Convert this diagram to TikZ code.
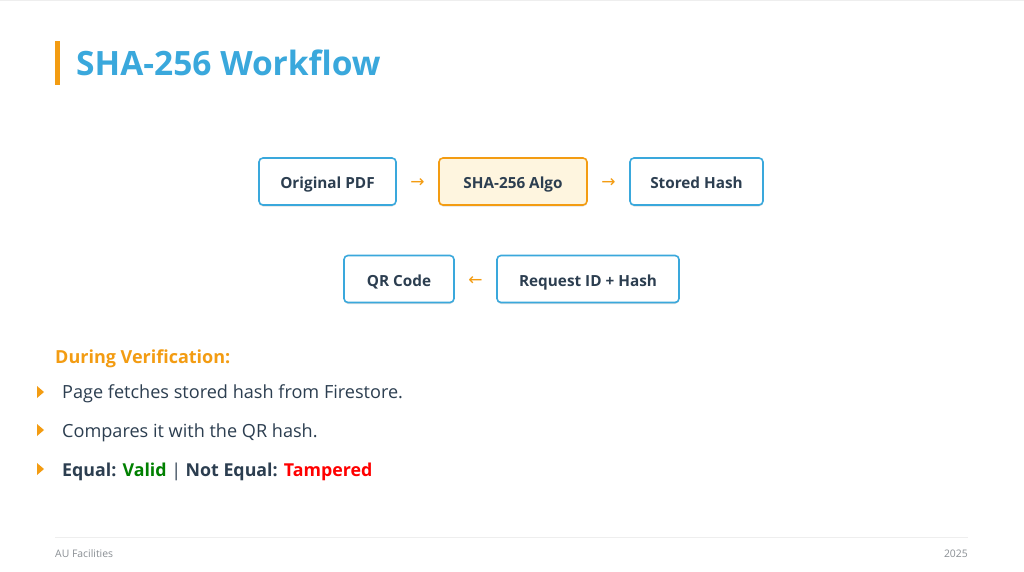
\documentclass[tikz,border=0pt]{standalone}
\usepackage{fontspec}
\setmainfont{Open Sans}
\newfontfamily\arrowfont{DejaVu Sans}
\usetikzlibrary{shadows,calc}
\definecolor{titleblue}{HTML}{3AA8DC}
\definecolor{accent}{HTML}{F39C12}
\definecolor{darktext}{HTML}{2C3E50}
\definecolor{boxfill}{HTML}{FEF5DF}
\definecolor{okgreen}{HTML}{008000}
\definecolor{badred}{HTML}{FF0000}
\definecolor{footgray}{HTML}{8A8F94}
\definecolor{lineg}{HTML}{EEEEEE}
\tikzset{
  flowbox/.style={draw=titleblue, line width=1.6pt, rounded corners=4pt, fill=white,
    minimum height=47pt, inner sep=0pt, text=darktext, text height=16pt, text depth=2pt,
    font=\fontsize{15.3}{17}\selectfont\bfseries,
    drop shadow={shadow xshift=0pt, shadow yshift=-1.5pt, opacity=0.12, fill=black}},
  algobox/.style={flowbox, draw=accent, fill=boxfill},
  flowarrow/.style={text=accent, font=\arrowfont\fontsize{17}{19}\selectfont, inner sep=0pt},
  bullet/.style={fill=accent, draw=none},
  bullettext/.style={anchor=base west, text=darktext, inner sep=0pt, font=\fontsize{18.1}{21}\selectfont},
}
\begin{document}
\begin{tikzpicture}[x=1pt,y=-1pt]
\useasboundingbox (0,0) rectangle (1024,572);
\fill[white] (0,0) rectangle (1024,572);
\draw[lineg, line width=1pt] (0,0.5) -- (1024,0.5);
% title
\fill[accent] (55,41) rectangle (60,85);
\node[anchor=base west, inner sep=0pt, text=titleblue, font=\fontsize{33.5}{38}\selectfont\bfseries] (title) at (76,76) {SHA-256 Workflow};
% boxes
\node[flowbox, minimum width=137pt] (pdf) at (327.5,181.5) {Original PDF};
\node[algobox, minimum width=148pt] (algo) at (513,181.5) {SHA-256 Algo};
\node[flowbox, minimum width=133pt] (stored) at (696.5,181.5) {Stored Hash};
\node[flowbox, minimum width=110pt] (qr) at (399,279) {QR Code};
\node[flowbox, minimum width=182pt] (req) at (588,279) {Request ID + Hash};
\node[flowarrow] (a1) at ($(pdf.east)!0.5!(algo.west)+(0,2)$) {→};
\node[flowarrow] (a2) at ($(algo.east)!0.5!(stored.west)+(0,2)$) {→};
\node[flowarrow] (a3) at ($(qr.east)!0.5!(req.west)+(0,2)$) {←};
% verification
\node[anchor=base west, inner sep=0pt, text=accent, font=\fontsize{18}{21}\selectfont\bfseries] (during) at (55,363) {During Verification:};
\fill[bullet] (37,386) -- (44,392) -- (37,398) -- cycle;
\node[bullettext] (b1) at (62,398) {Page fetches stored hash from Firestore.};
\fill[bullet] (37,424) -- (44,430) -- (37,436) -- cycle;
\node[bullettext] (b2) at (62,437) {Compares it with the QR hash.};
\fill[bullet] (37,463) -- (44,469) -- (37,475) -- cycle;
\node[bullettext, font=\fontsize{17.8}{21}\selectfont\bfseries] (b3) at (62,476) {Equal: \textcolor{okgreen}{Valid} {\mdseries|} Not Equal: \textcolor{badred}{Tampered}};
% footer
\draw[lineg, line width=1pt] (55,537.5) -- (968,537.5);
\node[anchor=base west, inner sep=0pt, text=footgray, font=\fontsize{10.4}{12}\selectfont] (f1) at (55,557) {AU Facilities};
\node[anchor=base east, inner sep=0pt, text=footgray, font=\fontsize{10.4}{12}\selectfont] (f2) at (968,557) {2025};
\end{tikzpicture}
\end{document}
